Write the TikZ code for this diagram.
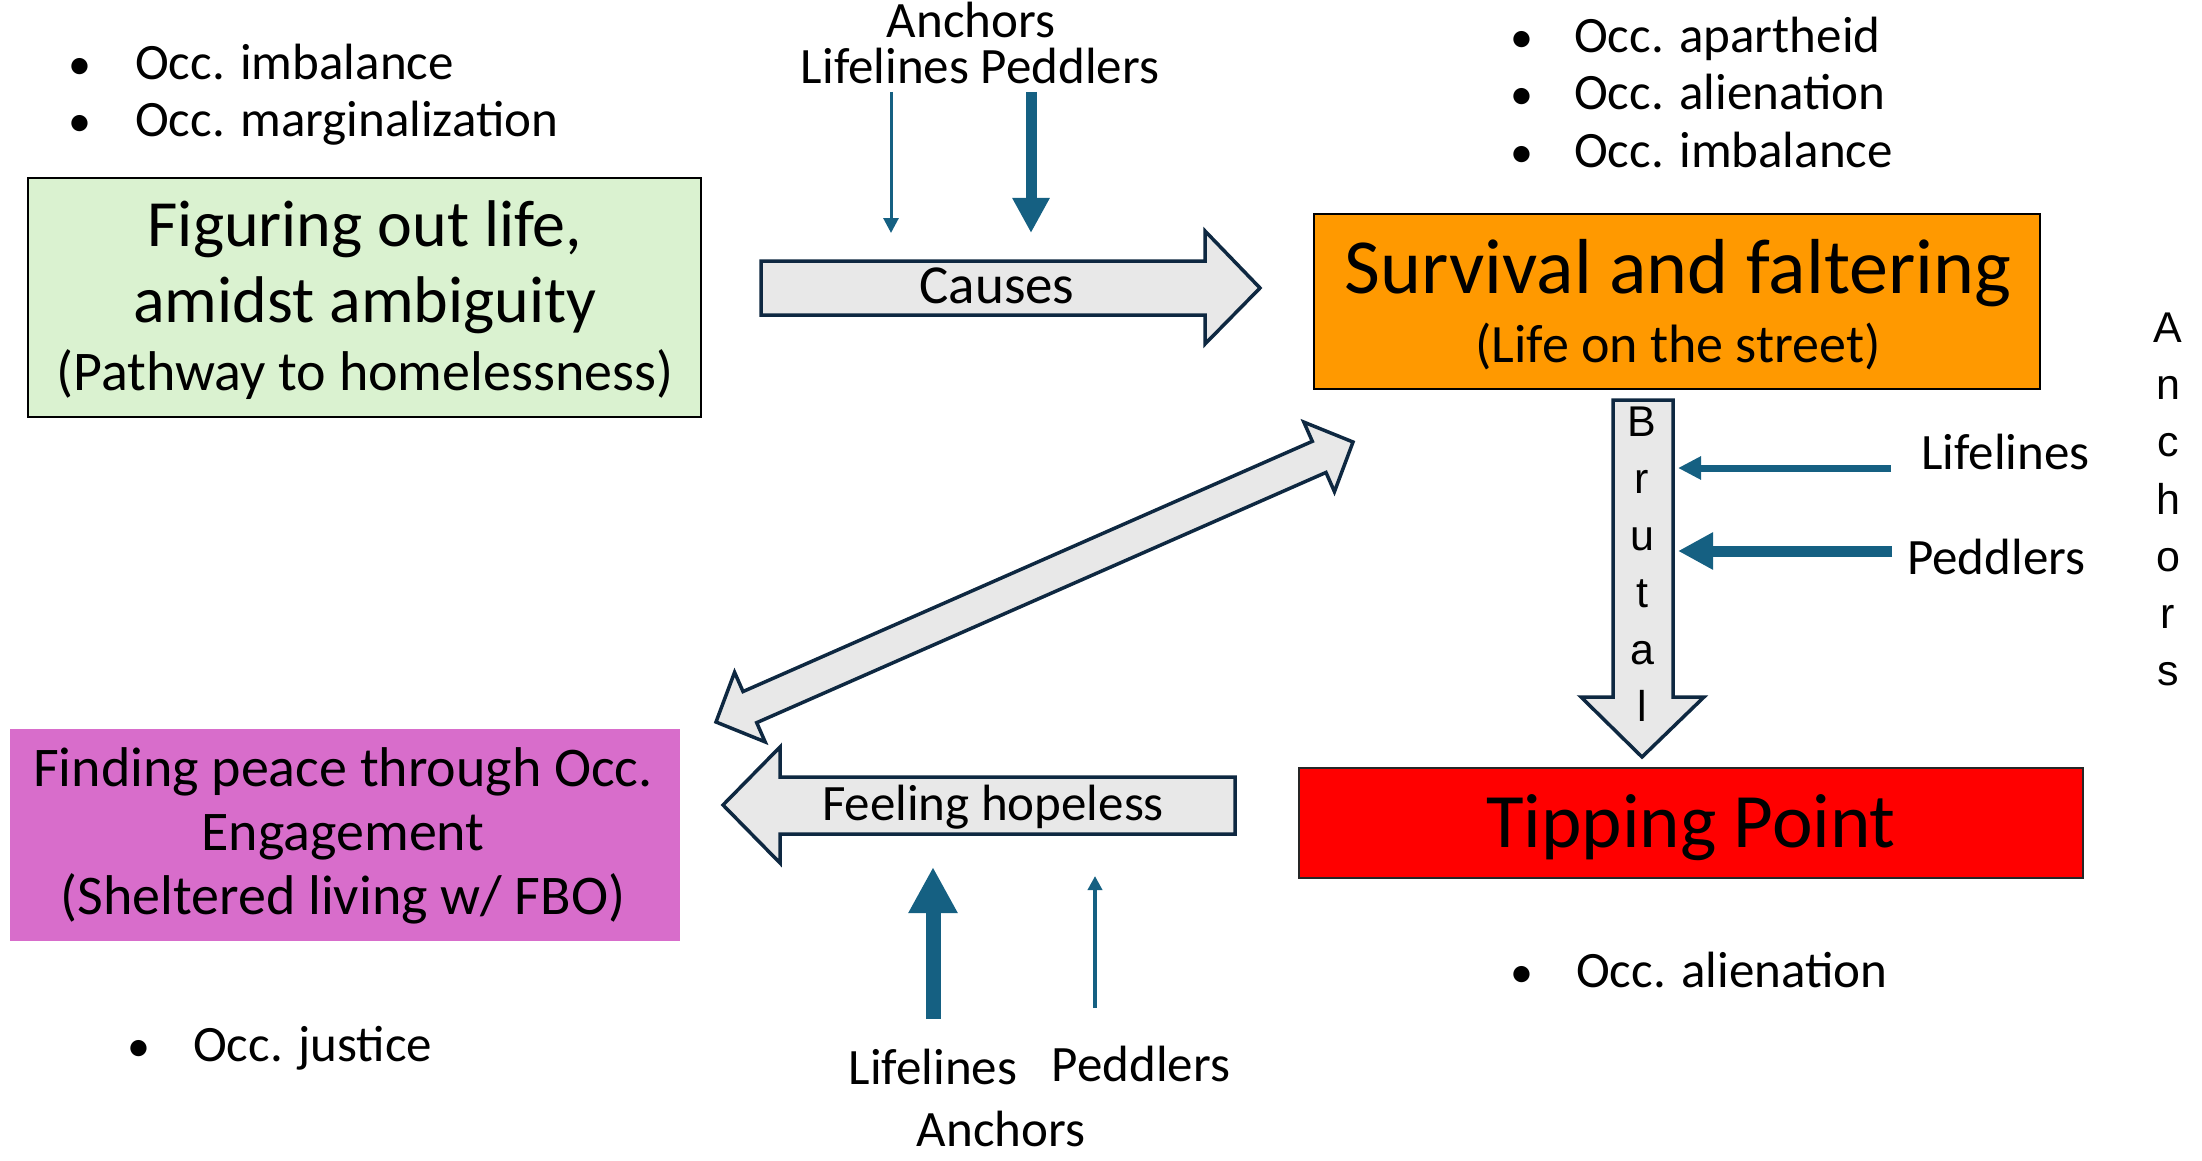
\documentclass[tikz,border=0pt]{standalone}
\usepackage{fontspec}
\setmainfont{Carlito}
\newfontfamily\arialf{Liberation Sans}
\usetikzlibrary{arrows.meta}
\definecolor{navy}{HTML}{0E2841}
\definecolor{accblue}{HTML}{156082}
\definecolor{lgray}{HTML}{E8E8E8}
\definecolor{lgreen}{HTML}{DAF2D0}
\definecolor{orangebox}{HTML}{FF9900}
\definecolor{orchid}{HTML}{D86DCB}
\begin{document}
\begin{tikzpicture}[x=1pt,y=-1pt,
  txt/.style={inner sep=0pt, anchor=base, font=\fontsize{51}{58}\selectfont},
  txtw/.style={inner sep=0pt, anchor=base west, font=\fontsize{51}{58}\selectfont},
  bul/.style={inner sep=0pt, anchor=base, font=\fontsize{46}{60}\selectfont},
  vlet/.style={inner sep=0pt, anchor=base, font=\arialf\fontsize{43}{50}\selectfont},
  boxnode/.style={inner sep=0pt, outer sep=0pt},
  blockarrow/.style={draw=navy, fill=lgray, line width=3.5pt, line join=miter},
  blue/.style={draw=accblue, line cap=butt}
]
\useasboundingbox (0,0) rectangle (2202,1161);

% ---------- boxes ----------
\node[boxnode, draw=black, line width=2pt, fill=lgreen, minimum width=673pt, minimum height=239pt] (fig) at (364.5,297.5) {};
\node[boxnode, draw=black, line width=2pt, fill=orangebox, minimum width=726pt, minimum height=175pt] (surv) at (1677,301.5) {};
\node[boxnode, draw=black!85, line width=1.6pt, fill=red, minimum width=784pt, minimum height=110pt] (tip) at (1691,823) {};
\node[boxnode, fill=orchid, minimum width=670pt, minimum height=212pt] (peace) at (345,835) {};

% box texts
\node[txt, font=\fontsize{66}{70}\selectfont] (fig1) at (365,246) {Figuring out life,};
\node[txt, font=\fontsize{66}{70}\selectfont] (fig2) at (365,322) {amidst ambiguity};
\node[txt, font=\fontsize{56}{60}\selectfont] (fig3) at (365,390) {(Pathway to homelessness)};

\node[txt, font=\fontsize{78}{80}\selectfont] (surv1) at (1678,293) {Survival and faltering};
\node[txt, font=\fontsize{54}{60}\selectfont] (surv2) at (1678,362) {(Life on the street)};

\node[txt, font=\fontsize{77}{80}\selectfont] (tip1) at (1691,847) {Tipping Point};

\node[txt, font=\fontsize{56}{60}\selectfont] (peace1) at (343,786) {Finding peace through Occ.};
\node[txt, font=\fontsize{56}{60}\selectfont] (peace2) at (343,850) {Engagement};
\node[txt, font=\fontsize{56}{60}\selectfont] (peace3) at (343,914) {(Sheltered living w/ FBO)};

% ---------- bullets ----------
\node[bul] (bl1) at (80,80) {•};
\node[txtw] (tl1) at (135,80) {Occ. imbalance};
\node[bul] (bl2) at (80,137) {•};
\node[txtw] (tl2) at (135,137) {Occ. marginalization};

\node[bul] (br1) at (1522,53) {•};
\node[txtw] (tr1) at (1574,53) {Occ. apartheid};
\node[bul] (br2) at (1522,110) {•};
\node[txtw] (tr2) at (1574,110) {Occ. alienation};
\node[bul] (br3) at (1522,168) {•};
\node[txtw] (tr3) at (1574,168) {Occ. imbalance};

\node[bul] (ba1) at (1522,987) {•};
\node[txtw] (ta1) at (1576,987) {Occ. alienation};

\node[bul] (bj1) at (139,1061) {•};
\node[txtw] (tj1) at (193,1061) {Occ. justice};

% ---------- block arrows ----------
\draw[blockarrow] (761,261) -- (1205,261) -- (1205,231) -- (1260,288) -- (1205,344) -- (1205,315) -- (761,315) -- cycle;
\node[txt, font=\fontsize{55}{60}\selectfont] (causes) at (997,303) {Causes};

\draw[blockarrow] (1235,777) -- (780,777) -- (780,747) -- (723,805) -- (780,863) -- (780,834) -- (1235,834) -- cycle;
\node[txt] (hope) at (993,820) {Feeling hopeless};

\draw[blockarrow] (1613,400) -- (1673,400) -- (1673,697) -- (1704,697) -- (1642,757) -- (1581,697) -- (1613,697) -- cycle;
\foreach \l/\y in {B/436, r/493, u/550, t/607, a/664, l/721}
  \node[vlet] at (1642,\y) {\l};

\draw[blockarrow] (716,722) -- (765.15,741.89) -- (756.70,722.67) -- (1325.98,472.45) -- (1334.43,491.67)
  -- (1353,442) -- (1303.85,422.11) -- (1312.30,441.33) -- (743.02,691.55) -- (734.57,672.33) -- cycle;

% ---------- blue arrows ----------
\node[txt] (anchT) at (971,38) {Anchors};
\node[txt] (lpT) at (980,84) {Lifelines Peddlers};
\coordinate (t1s) at (891,92);  \coordinate (t1e) at (891,233);
\coordinate (t2s) at (1031,92); \coordinate (t2e) at (1031,233);
\draw[blue, line width=3pt, -{Triangle[length=15pt,width=15pt]}] (t1s) -- (t1e);
\draw[blue, line width=11pt, -{Triangle[length=35pt,width=35pt]}] (t2s) -- (t2e);

\node[txtw] (lifeR) at (1921,469) {Lifelines};
\node[txtw] (pedR) at (1907,574) {Peddlers};
\coordinate (r1s) at (1891,468); \coordinate (r1e) at (1678,468);
\coordinate (r2s) at (1892,551); \coordinate (r2e) at (1678,551);
\draw[blue, line width=7pt, -{Triangle[length=23pt,width=22pt]}] (r1s) -- (r1e);
\draw[blue, line width=11pt, -{Triangle[length=35pt,width=35pt]}] (r2s) -- (r2e);

\foreach \l/\y in {A/342, n/399, c/456, h/514, o/571, r/628, s/685}
  \node[vlet] at (2168,\y) {\l};

\coordinate (b1s) at (933,1019); \coordinate (b1e) at (933,867);
\coordinate (b2s) at (1095,1008); \coordinate (b2e) at (1095,876);
\draw[blue, line width=15pt, -{Triangle[length=46pt,width=46pt]}] (b1s) -- (b1e);
\draw[blue, line width=4pt, -{Triangle[length=14pt,width=14pt]}] (b2s) -- (b2e);
\node[txt] (lifeB) at (933,1084) {Lifelines};
\node[txt] (pedB) at (1141,1081) {Peddlers};
\node[txt] (anchB) at (1001,1146) {Anchors};
\end{tikzpicture}
\end{document}
